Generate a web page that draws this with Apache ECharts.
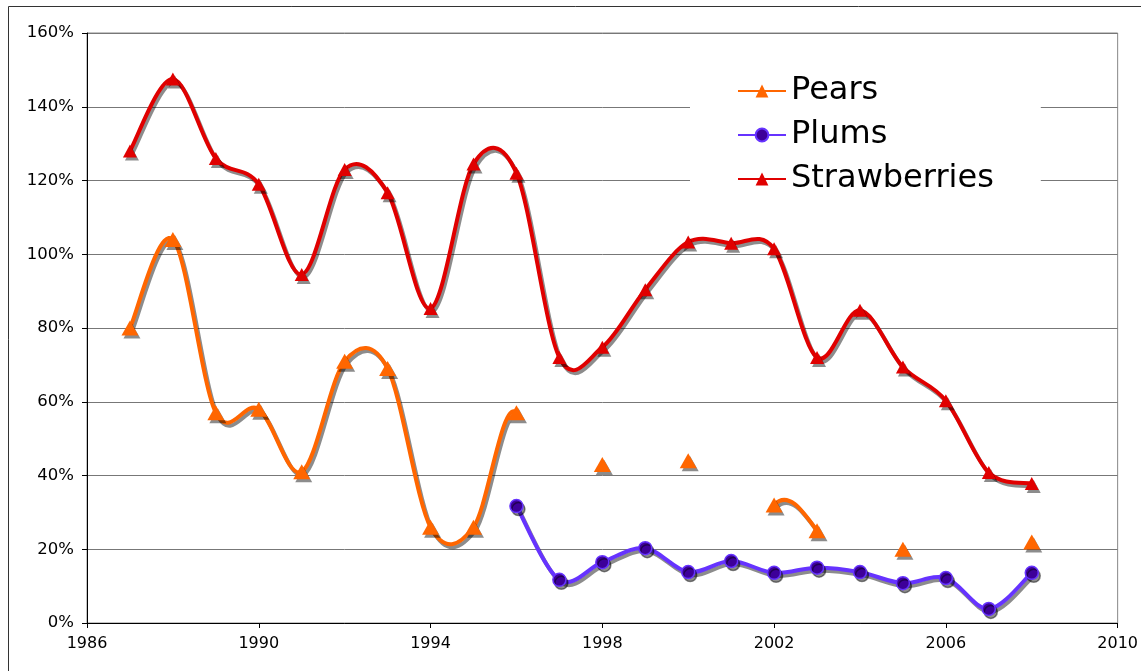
<!DOCTYPE html>
<html lang="en">
<head>
    <meta charset="UTF-8">
    <title>Fruit</title>
    <script src="https://cdn.jsdelivr.net/npm/echarts@6/dist/echarts.min.js"></script>
</head>
<body style="margin:0;background:#fff;">
    <div id="main" style="width: 1141px;height:671px;"></div>
    <script type="text/javascript">
        // data (percent)
        var years = [1987, 1988, 1989, 1990, 1991, 1992, 1993, 1994, 1995, 1996, 1997,
                     1998, 1999, 2000, 2001, 2002, 2003, 2004, 2005, 2006, 2007, 2008];
        var pears = [80, 104, 57, 58, 41, 71, 69, 26, 26, 57, null,
                     43, null, 44, null, 32, 25, null, 20, null, null, 22];
        var plums = [null, null, null, null, null, null, null, null, null, 31.7, 11.7,
                     16.5, 20.3, 13.8, 16.8, 13.6, 15, 13.8, 10.8, 12.2, 3.8, 13.6];
        var strawberries = [128, 147.5, 126, 119, 94.5, 123, 116.7, 85.3, 124.5, 122, 72,
                            74.8, 90.4, 103.3, 103, 101.5, 72, 84.8, 69.4, 60.3, 40.8, 37.8];
        var xTicks = [1986, 2010, 4];      // min, max, step
        var yTicks = [0, 160, 20];

        var font = 'DejaVu Sans';
        var shadow = {
            shadowColor: 'rgba(0,0,0,0.45)',
            shadowOffsetX: 2,
            shadowOffsetY: 3,
            shadowBlur: 0
        };

        function pairs(arr) {
            return years.map(function (y, i) {
                return [y, arr[i] == null ? '-' : arr[i]];
            });
        }

        // contiguous runs of non-null values -> [start, end]
        function runs(arr) {
            var out = [], s = -1;
            for (var i = 0; i <= arr.length; i++) {
                if (i < arr.length && arr[i] != null) {
                    if (s < 0) s = i;
                } else {
                    if (s >= 0 && i - 1 > s) out.push([s, i - 1]);
                    s = -1;
                }
            }
            return out;
        }

        function hasData(arr, from, to) {
            for (var i = from; i < to; i++) if (arr[i] != null) return true;
            return false;
        }

        // Excel-style smoothed line (Catmull-Rom, tension 1/6), points from the axes.
        // a blank inside the series counts as 0 for the curve's shape, like Excel does
        function curveSeries(name, arr, color, z) {
            return {
                type: 'custom',
                name: name + ' curve',
                z: z,
                silent: true,
                data: runs(arr),
                renderItem: function (params, api) {
                    var s = api.value(0), e = api.value(1);
                    function pt(k, fallback) {
                        if (k < 0 || k >= arr.length) return api.coord([years[fallback], arr[fallback]]);
                        if (arr[k] == null) {
                            if (hasData(arr, 0, k) && hasData(arr, k + 1, arr.length)) {
                                return api.coord([years[k], 0]);
                            }
                            return api.coord([years[fallback], arr[fallback]]);
                        }
                        return api.coord([years[k], arr[k]]);
                    }
                    var d = '';
                    for (var i = s; i < e; i++) {
                        var p0 = pt(i - 1, i), p1 = pt(i, i), p2 = pt(i + 1, i + 1),
                            p3 = pt(i + 2, i + 1);
                        if (i === s) d = 'M' + p1[0] + ' ' + p1[1];
                        d += ' C' + (p1[0] + (p2[0] - p0[0]) / 6) + ' ' + (p1[1] + (p2[1] - p0[1]) / 6) +
                             ' ' + (p2[0] - (p3[0] - p1[0]) / 6) + ' ' + (p2[1] - (p3[1] - p1[1]) / 6) +
                             ' ' + p2[0] + ' ' + p2[1];
                    }
                    return {
                        type: 'path',
                        shape: {pathData: d},
                        style: Object.assign({fill: null, stroke: color, lineWidth: 4,
                            lineJoin: 'round', lineCap: 'round'}, shadow)
                    };
                }
            };
        }

        function markerSeries(name, arr, color, symbol, size, itemStyle, z) {
            return {
                name: name,
                type: 'line',
                data: pairs(arr),
                symbol: symbol,
                symbolSize: size,
                z: z,
                color: color,
                lineStyle: {color: color, width: 3, opacity: 0},
                itemStyle: Object.assign({color: color}, itemStyle, shadow)
            };
        }

        var myChart = echarts.init(document.getElementById('main'));
        var option = {
            animation: false,
            backgroundColor: '#fff',
            textStyle: {fontFamily: font},
            // outer chart frame
            graphic: [{
                type: 'rect',
                shape: {x: 8.5, y: 6.5, width: 1140, height: 700},
                style: {fill: 'none', stroke: '#333', lineWidth: 1},
                silent: true
            }],
            grid: {
                left: 87, right: 23, top: 33, bottom: 48,
                show: true, borderColor: '#888', borderWidth: 1
            },
            legend: {
                orient: 'vertical',
                left: 690,
                top: 61,
                padding: [14, 47, 14, 47],
                backgroundColor: '#fff',
                itemWidth: 48,
                itemHeight: 16,
                itemGap: 12,
                lineStyle: {opacity: 1},
                textStyle: {fontFamily: font, fontSize: 32, color: '#000'},
                data: ['Pears', 'Plums', 'Strawberries']
            },
            xAxis: {
                type: 'value',
                min: xTicks[0], max: xTicks[1], interval: xTicks[2],
                axisLine: {lineStyle: {color: '#000', width: 1}},
                axisTick: {show: true, length: 5, lineStyle: {color: '#000'}},
                axisLabel: {color: '#000', fontSize: 16, margin: 13, fontFamily: font,
                    formatter: function (v) { return String(v); }},
                splitLine: {show: false}
            },
            yAxis: {
                type: 'value',
                min: yTicks[0], max: yTicks[1], interval: yTicks[2],
                axisLine: {show: true, lineStyle: {color: '#000', width: 1}},
                axisTick: {show: true, length: 5, lineStyle: {color: '#000'}},
                axisLabel: {color: '#000', fontSize: 16.5, margin: 13, fontFamily: font,
                    formatter: '{value}%'},
                splitLine: {lineStyle: {color: '#777', width: 1}}
            },
            series: [
                curveSeries('Plums', plums, '#6633FF', 2),
                curveSeries('Pears', pears, '#FF6600', 3),
                curveSeries('Strawberries', strawberries, '#E00000', 4),
                markerSeries('Pears', pears, '#FF6600', 'triangle', [17, 15], {}, 6),
                markerSeries('Plums', plums, '#6633FF', 'circle', 13,
                    {color: '#3D0099', borderColor: '#6633FF', borderWidth: 1.5}, 5),
                markerSeries('Strawberries', strawberries, '#E00000', 'triangle', [14, 13], {}, 7)
            ]
        };

        myChart.setOption(option);
    </script>
</body>
</html>
